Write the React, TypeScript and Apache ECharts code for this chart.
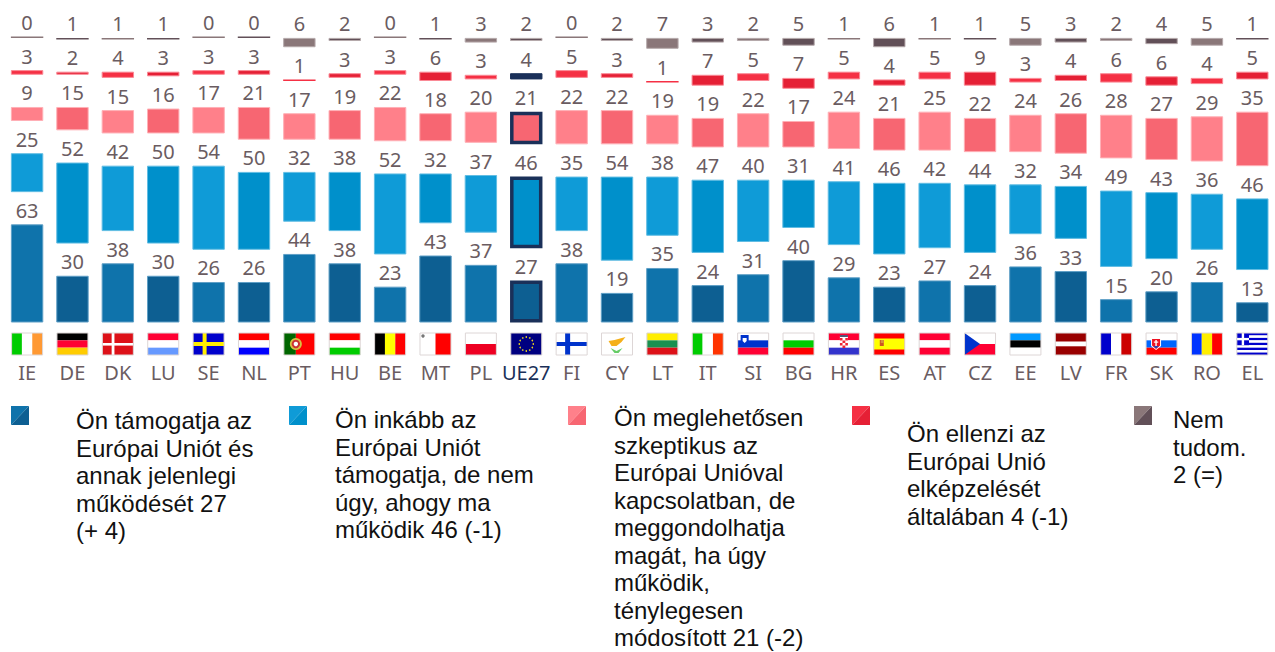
import React, { useEffect, useRef } from "react";
import * as echarts from "echarts";

const categories = ["IE","DE","DK","LU","SE","NL","PT","HU","BE","MT","PL","UE27","FI","CY","LT","IT","SI","BG","HR","ES","AT","CZ","EE","LV","FR","SK","RO","EL"];
const supportValues = [63,30,38,30,26,26,44,38,23,43,37,27,38,19,35,24,31,40,29,23,27,24,36,33,15,20,26,13];
const ratherValues = [25,52,42,50,54,50,32,38,52,32,37,46,35,54,38,47,40,31,41,46,42,44,32,34,49,43,36,46];
const scepticValues = [9,15,15,16,17,21,17,19,22,18,20,21,22,22,19,19,22,17,24,21,25,22,24,26,28,27,29,35];
const opposeValues = [3,2,4,3,3,3,1,3,3,6,3,4,5,3,1,7,5,7,5,4,5,9,3,4,6,6,4,5];
const dkValues = [0,1,1,1,0,0,6,2,0,1,3,2,0,2,7,3,2,5,1,6,1,1,5,3,2,4,5,1];

const NAVY = "#1a3059";
const TEXT = "#6a5c61";
const EU = categories.indexOf("UE27");

const palette = [
  { light: "#0f73ab", dark: "#0d5f92", border: "#5f9fc6" },
  { light: "#0f9bd7", dark: "#0090cb", border: "#62bde3" },
  { light: "#ff808a", dark: "#f76672", border: "#ffb0b6" },
  { light: "#f53044", dark: "#e52035", border: "#fa8a96" },
  { light: "#8a7779", dark: "#625058", border: "#b5a9ab" },
];

const legendTexts = [
  "Ön támogatja az\nEurópai Uniót és\nannak jelenlegi\nműködését 27\n(+ 4)",
  "Ön inkább az\nEurópai Uniót\ntámogatja, de nem\núgy, ahogy ma\nműködik 46 (-1)",
  "Ön meglehetősen\nszkeptikus az\nEurópai Unióval\nkapcsolatban, de\nmeggondolhatja\nmagát, ha úgy\nműködik,\nténylegesen\nmódosított 21 (-2)",
  "Ön ellenzi az\nEurópai Unió\nelképzelését\náltalában 4 (-1)",
  "Nem\ntudom.\n2 (=)",
];
const legendSwatchX = [11, 289, 568, 852, 1134];
const legendTextX = [76, 335, 614, 907, 1173];
const legendTextY = [407, 406, 404, 420, 406];

const PX_PER_UNIT = 1.558;
const GAP_UNITS = 32.2 / PX_PER_UNIT;

// ---- flags (31 x 22 box) ----
const FW = 31, FH = 22;
const r = (x: number, y: number, w: number, h: number, fill: string) => ({ type: "rect", shape: { x, y, width: w, height: h }, style: { fill } });
const c = (cx: number, cy: number, rad: number, fill: string) => ({ type: "circle", shape: { cx, cy, r: rad }, style: { fill } });
const p = (points: number[][], fill: string) => ({ type: "polygon", shape: { points }, style: { fill } });
const hs = (...cols: string[]) => cols.map((k, i) => r(0, (i * FH) / cols.length, FW, FH / cols.length, k));
const vs = (...cols: string[]) => cols.map((k, i) => r((i * FW) / cols.length, 0, FW / cols.length, FH, k));
const euStars = [0,1,2,3,4,5,6,7,8,9,10,11].map((i) => c(15.5 + 7 * Math.cos((i * Math.PI) / 6), 11 + 7 * Math.sin((i * Math.PI) / 6), 0.8, "#e8d020"));
const elStripes = [0,1,2,3,4,5,6,7,8].map((i) => r(0, (i * FH) / 9, FW, FH / 9, i % 2 ? "#ffffff" : "#0000cc"));

const flags: Record<string, any[]> = {
  IE: vs("#00cc00", "#ffffff", "#ff9933"),
  DE: hs("#000000", "#ff0033", "#ffcc00"),
  DK: [r(0,0,FW,FH,"#dd1118"), r(9.3,0,2.8,FH,"#fff"), r(0,10,FW,2.6,"#fff")],
  LU: hs("#ff0033", "#ffffff", "#6699ff"),
  SE: [r(0,0,FW,FH,"#0000cc"), r(9.5,0,4,FH,"#ffee00"), r(0,9,FW,4,"#ffee00")],
  NL: hs("#ff0000", "#ffffff", "#0000ff"),
  PT: [r(0,0,12,FH,"#006600"), r(12,0,19,FH,"#ff0000"), c(12,11,6,"#d8c040"), c(12,11,4.2,"#cc3333"), c(12,11,2.2,"#ffffff")],
  HU: hs("#ff0000", "#ffffff", "#00cc00"),
  BE: vs("#000000", "#ffff00", "#ff0000"),
  MT: [r(0,0,15.5,FH,"#ffffff"), r(15.5,0,15.5,FH,"#ff0000"), c(3,3,1.7,"#777777")],
  PL: hs("#ffffff", "#ee0022"),
  UE27: [r(0,0,FW,FH,"#000080"), ...euStars],
  FI: [r(0,0,FW,FH,"#ffffff"), r(9,0,5,FH,"#0033cc"), r(0,9,FW,4,"#0033cc")],
  CY: [r(0,0,FW,FH,"#ffffff"), p([[7,8],[13,7],[24,4],[20,9],[15,13],[10,13]],"#f5b01a"), p([[9,15],[15,18],[21,15],[17,20],[13,20]],"#66cc66")],
  LT: hs("#ffee00", "#1a9050", "#dd1118"),
  IT: vs("#00cc00", "#ffffff", "#ff3300"),
  SI: [...hs("#ffffff", "#0033cc", "#ff0033"), p([[3,2],[11,2],[11,9],[7,13],[3,9]],"#0033cc"), p([[5,5],[9,5],[9,8],[7,10],[5,8]],"#ffffff")],
  BG: hs("#ffffff", "#00cc00", "#ff0000"),
  HR: [...hs("#ff0033", "#ffffff", "#3333cc"), r(11.5,3,8,10,"#ffffff"), r(11.5,5,2.6,2.5,"#ee2233"), r(16.9,5,2.6,2.5,"#ee2233"), r(14.1,7.5,2.8,2.5,"#ee2233"), r(11.5,10,2.6,2.5,"#ee2233"), r(16.9,10,2.6,2.5,"#ee2233"), r(14.1,12.5,2.8,2.5,"#ee2233"), r(11.5,2,8,2,"#555577")],
  ES: [r(0,0,FW,FH,"#ff0000"), r(0,5.5,FW,11,"#ffff00"), r(6,7,4,6,"#cc5522"), r(7,7,3,3,"#d89040")],
  AT: hs("#ff0033", "#ffffff", "#ff0033"),
  CZ: [...hs("#ffffff", "#ff0033"), p([[0,0],[15.5,11],[0,22]],"#0033cc")],
  EE: hs("#0099ff", "#000000", "#ffffff"),
  LV: [r(0,0,FW,8.7,"#990000"), r(0,8.7,FW,4.6,"#ffffff"), r(0,13.3,FW,8.7,"#990000")],
  FR: vs("#0000cc", "#ffffff", "#cc0000"),
  SK: [...hs("#ffffff", "#0066ff", "#ff0000"), p([[5,5],[15,5],[15,13],[10,17],[5,13]],"#ffffff"), p([[6,6],[14,6],[14,12.5],[10,16],[6,12.5]],"#ee1122"), r(9.3,7,1.4,6,"#ffffff"), r(7.8,8.5,4.4,1.2,"#ffffff"), p([[7,13],[13,13],[10,15.5]],"#2244bb")],
  RO: vs("#0033ff", "#ffee00", "#ff0000"),
  EL: [...elStripes, r(0,0,12.2,12.2,"#0000cc"), r(4.9,0,2.4,12.2,"#ffffff"), r(0,4.9,12.2,2.4,"#ffffff")],
};

function barSeries(values: number[], idx: number, minHeight: number) {
  const pal = palette[idx];
  const isLast = idx === 4;
  const data = values.map((v, i) => {
    const base = i % 2 ? pal.dark : pal.light;
    if (i === EU && idx < 3) {
      return { value: v, itemStyle: { color: base, borderColor: NAVY, borderWidth: 3.5 } };
    }
    if (i === EU && idx === 3) {
      return { value: v, itemStyle: { color: NAVY, borderColor: NAVY, borderWidth: 1 } };
    }
    return { value: v, itemStyle: { color: base, borderColor: isLast && v === 0 ? pal.light : pal.border, borderWidth: v > 1 ? 1 : 0 } };
  });
  return {
    type: "bar",
    name: "s" + idx,
    stack: "all",
    barWidth: 32.4,
    barMinHeight: minHeight,
    silent: true,
    data,
    label: {
      show: true,
      position: "top",
      distance: 4,
      fontFamily: "Noto Sans",
      fontSize: 20,
      color: TEXT,
    },
  };
}

function spacer() {
  return {
    type: "bar",
    stack: "all",
    barWidth: 32.4,
    silent: true,
    itemStyle: { color: "transparent" },
    label: { show: false },
    data: categories.map(() => GAP_UNITS),
  };
}

function legendGraphics() {
  const out: any[] = [];
  palette.forEach((pal, i) => {
    const x = legendSwatchX[i];
    const y = 406;
    out.push({ type: "polygon", silent: true, shape: { points: [[x, y], [x + 18, y], [x, y + 19]] }, style: { fill: pal.light } });
    out.push({ type: "polygon", silent: true, shape: { points: [[x + 18, y], [x + 18, y + 19], [x, y + 19]] }, style: { fill: pal.dark } });
    out.push({
      type: "text",
      silent: true,
      x: legendTextX[i],
      y: legendTextY[i],
      style: {
        text: legendTexts[i],
        font: '24px "Liberation Sans"',
        lineHeight: 27.5,
        fill: "#111111",
        textAlign: "left",
        textVerticalAlign: "top",
      },
    });
  });
  return out;
}

export default function App() {
  const ref = useRef<HTMLDivElement>(null);
  useEffect(() => {
    document.body.style.margin = "0";
    const chart = echarts.init(ref.current!, undefined, { renderer: "svg" });
    const BASE_Y = 322.5;
    chart.setOption({
      animation: false,
      backgroundColor: "#ffffff",
      grid: { left: 4.4, top: 0, width: 1277.6, height: BASE_Y, containLabel: false },
      xAxis: {
        type: "category",
        data: categories.map((name, i) => (i === EU ? { value: name, textStyle: { color: NAVY } } : name)),
        axisLine: { show: false },
        axisTick: { show: false },
        axisLabel: { interval: 0, margin: 40, fontFamily: "Noto Sans", fontSize: 20, color: TEXT },
      },
      yAxis: { type: "value", min: 0, max: BASE_Y / PX_PER_UNIT, show: false, splitLine: { show: false } },
      series: [
        barSeries(supportValues, 0, 0),
        spacer(),
        barSeries(ratherValues, 1, 0),
        spacer(),
        barSeries(scepticValues, 2, 0),
        spacer(),
        barSeries(opposeValues, 3, 0),
        spacer(),
        barSeries(dkValues, 4, 1.4),
        {
          type: "custom",
          silent: true,
          clip: false,
          data: categories.map((_, i) => [i, 0]),
          encode: { x: 0, y: 1 },
          renderItem: (params: any, api: any) => {
            const pt = api.coord([api.value(0), 0]);
            const name = categories[params.dataIndex];
            const border = { type: "rect", shape: { x: 0, y: 0, width: FW, height: FH }, style: { fill: "none", stroke: "#ddd6d6", lineWidth: 1 } };
            return {
              type: "group",
              x: pt[0] - FW / 2,
              y: pt[1] + 10.5,
              children: [...flags[name], border],
            };
          },
        },
      ],
      graphic: { elements: legendGraphics() },
    });
    return () => chart.dispose();
  }, []);
  return <div ref={ref} style={{ position: "absolute", left: 0, top: 0, width: 1275, height: 652, overflow: "hidden" }} />;
}
